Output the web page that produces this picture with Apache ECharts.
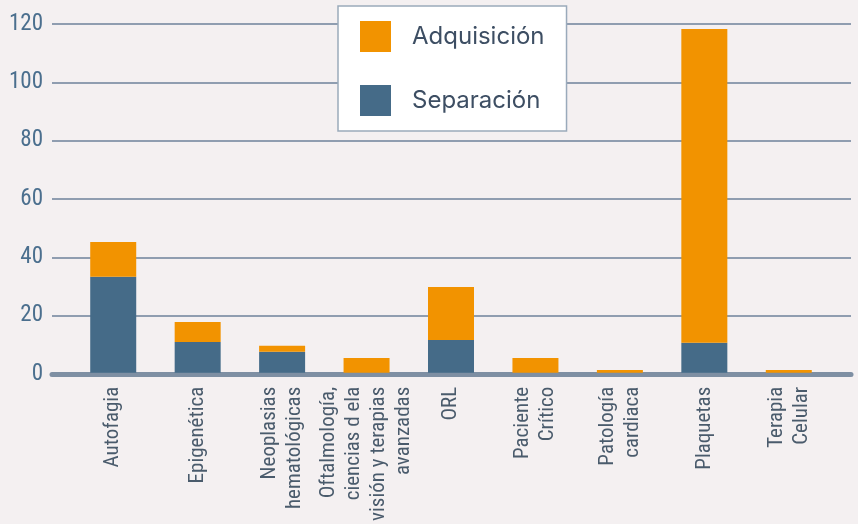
<!DOCTYPE html>
<html>
<head>
<meta charset="utf-8">
<script src="https://cdn.jsdelivr.net/npm/echarts@6/dist/echarts.min.js"></script>
<style>
  html, body { margin: 0; padding: 0; background: #f4f0f1; }
  #chart { width: 858px; height: 524px; }
</style>
</head>
<body>
<div id="chart"></div>
<script>
const categories = [
  "Autofagia",
  "Epigenética",
  "Neoplasias\nhematológicas",
  "Oftalmología,\nciencias d ela\nvisión y terapias\navanzadas",
  "ORL",
  "Paciente\nCrítico",
  "Patología\ncardiaca",
  "Plaquetas",
  "Terapia\nCelular"
];
const separacion = [33, 10.6, 7.2, 0, 11.3, 0, 0, 10.3, 0];
const adquisicion = [12, 6.9, 2.1, 5.1, 18.2, 5.1, 1, 108, 1];
const yTicks = { min: 0, max: 120, interval: 20 };

const narrow = "'Roboto Condensed', 'Liberation Sans Narrow', 'DejaVu Sans Condensed', 'Arial Narrow', Roboto, sans-serif";
const orange = "#f29300";
const blue = "#456b88";

const chartObj = echarts.init(document.getElementById("chart"));
const option = {
  backgroundColor: "#f4f0f1",
  animation: false,
  grid: [
    // background grid: wide gridlines and axis line
    { left: 52, right: 7, top: 24, bottom: 150 },
    // bars
    { left: 71, right: 27, top: 24, bottom: 150 }
  ],
  legend: {
    orient: "vertical",
    left: 338,
    top: 6,
    padding: [15, 22, 15, 22],
    itemWidth: 31,
    itemHeight: 31,
    itemGap: 33,
    backgroundColor: "#ffffff",
    borderColor: "#9aaabb",
    borderWidth: 1.5,
    icon: "rect",
    data: ["Adquisición", "Separación"],
    textStyle: {
      fontSize: 24,
      fontFamily: "Inter, Roboto, 'Noto Sans', sans-serif",
      color: "#3d4e63",
      padding: [4, 0, 0, 16]
    }
  },
  xAxis: [
    {
      gridIndex: 0,
      type: "value",
      min: 0,
      max: 1,
      offset: 2.5,
      axisLine: { show: true, lineStyle: { color: "#7e8fa3", width: 5 } },
      axisTick: { show: false },
      axisLabel: { show: false },
      splitLine: { show: false }
    },
    {
      gridIndex: 1,
      type: "category",
      data: categories,
      axisLine: { show: false },
      axisTick: { show: false },
      axisLabel: {
        rotate: 90,
        interval: 0,
        margin: 14,
        fontSize: 21,
        lineHeight: 25,
        fontFamily: narrow,
        color: "#4a5b6c"
      }
    }
  ],
  yAxis: [
    {
      gridIndex: 0,
      type: "value",
      min: yTicks.min,
      max: yTicks.max,
      interval: yTicks.interval,
      axisLine: { show: false },
      axisTick: { show: false },
      axisLabel: {
        margin: 9,
        fontSize: 23,
        fontFamily: narrow,
        color: "#4b6f8e"
      },
      splitLine: { show: true, lineStyle: { color: "#8f9db0", width: 2 } }
    },
    {
      gridIndex: 1,
      type: "value",
      min: yTicks.min,
      max: yTicks.max,
      interval: yTicks.interval,
      show: false
    }
  ],
  series: [
    {
      name: "Separación",
      type: "bar",
      stack: "total",
      xAxisIndex: 1,
      yAxisIndex: 1,
      barWidth: 46,
      itemStyle: { color: blue },
      data: separacion
    },
    {
      name: "Adquisición",
      type: "bar",
      stack: "total",
      xAxisIndex: 1,
      yAxisIndex: 1,
      barWidth: 46,
      itemStyle: { color: orange },
      data: adquisicion
    }
  ]
};
chartObj.setOption(option);
</script>
</body>
</html>
